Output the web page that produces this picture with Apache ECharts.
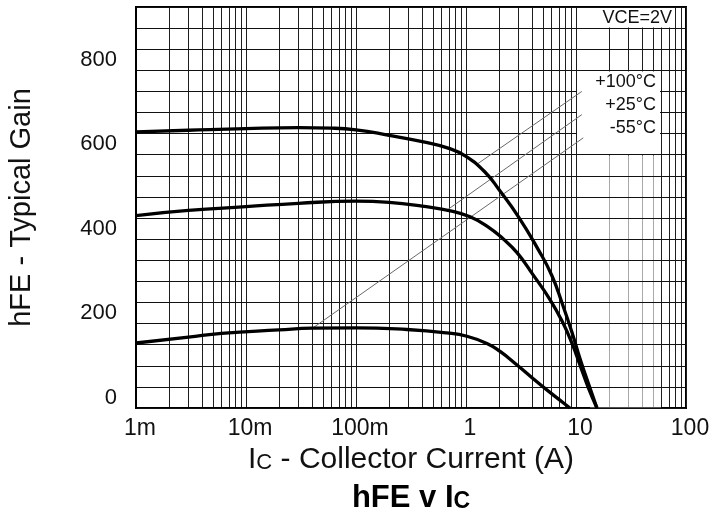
<!DOCTYPE html>
<html><head><meta charset="utf-8">
<script src="https://cdn.jsdelivr.net/npm/echarts@6/dist/echarts.min.js"></script>
<style>html,body{margin:0;padding:0;background:#fff}#c{width:709px;height:516px}</style>
</head><body><div id="c"></div>
<script>
// ---- data ----
const xLabelValues = [0.001, 0.01, 0.1, 1, 10, 100];
const xTickLabels = ['1m', '10m', '100m', '1', '10', '100'];
const yLabelValues = [0, 200, 400, 600, 800];

const current100 = [0.001, 0.003, 0.01, 0.03, 0.06, 0.1, 0.2, 0.4, 0.7, 1.0, 1.5, 2.0, 3.0, 4.5, 6.0, 7.6, 9.2, 10.9, 12.9, 15.5];
const gain100    = [629, 633, 637, 639, 638, 634, 621, 606, 590, 571, 533, 492, 428, 352, 290, 218, 154, 91, 35, -25];

const current25 = [0.001, 0.003, 0.01, 0.03, 0.1, 0.2, 0.4, 0.76, 1.09, 1.55, 2.17, 2.91, 4.06, 5.8, 7.6, 9.2, 10.9, 12.9, 15.5];
const gain25    = [431, 443, 452, 460, 465, 462, 453, 441, 428, 406, 376, 343, 291, 232, 177, 128, 76, 24, -25];

const currentM55 = [0.001, 0.003, 0.006, 0.02, 0.04, 0.1, 0.29, 0.67, 1.02, 1.55, 2.04, 2.91, 4.06, 5.8, 7.6, 8.8];
const gainM55    = [129, 143, 152, 160, 164, 165, 161, 153, 145, 128, 109, 77, 45, 12, -12, -25];

// leader lines from the temperature labels to the curves
const leader100Current = [11.3, 1.25], leader100Gain = [725, 552];
const leader25Current  = [11.3, 0.69], leader25Gain  = [670, 446];
const leaderM55Current = [11.65, 0.0407], leaderM55Gain = [615, 165];

const tempLabels = ['+100°C', '+25°C', '-55°C'];
const conditionLabel = 'VCE=2V';

// grid lines of the log axis: 1..9 in every decade
const decades = [0.001, 0.01, 0.1, 1, 10];
const gridMultipliers = [1, 2, 3, 4, 5, 6, 7, 8, 9];
const xGridValues = [];
decades.forEach(d => gridMultipliers.forEach(m => xGridValues.push(+(d * m).toPrecision(6))));
xGridValues.push(100);

function pairs(xs, ys) { return xs.map((x, i) => [x, ys[i]]); }

const FONT = '"Liberation Sans", Arial, Helvetica, sans-serif';
const chart = echarts.init(document.getElementById('c'), null, {renderer: 'canvas'});

const curveStyle = {color: '#000', width: 3.3};
const leaderStyle = {color: '#6a6a6a', width: 1};

chart.setOption({
  animation: false,
  backgroundColor: '#fff',
  grid: {left: 136, right: 23, top: 7, bottom: 108, outerBoundsMode: 'none', containLabel: false,
         show: true, borderColor: '#000', borderWidth: 2, backgroundColor: 'transparent'},
  xAxis: {
    type: 'log', logBase: 10, min: 0.001, max: 100, z: 0,
    name: '{i|I}{c|C}{r| - Collector Current (A)}',
    nameLocation: 'middle', nameGap: 35,
    nameTextStyle: {
      fontFamily: FONT, color: '#111',
      rich: {
        i: {fontSize: 30, fontFamily: FONT, color: '#111'},
        c: {fontSize: 22, fontFamily: FONT, color: '#111', verticalAlign: 'bottom', padding: [0, 0, 1, 0]},
        r: {fontSize: 30, fontFamily: FONT, color: '#111'}
      }
    },
    axisLine: {show: true, onZero: false, lineStyle: {color: '#000', width: 2}},
    axisTick: {show: false, customValues: xGridValues},
    minorTick: {show: false},
    axisLabel: {
      customValues: xLabelValues, hideOverlap: false,
      fontSize: 23, fontFamily: FONT, color: '#111', margin: 9, padding: [0, 0, 0, 8],
      formatter: v => xTickLabels[Math.round(Math.log10(v)) + 3]
    },
    splitLine: {show: true, lineStyle: {color: '#1e1e1e', width: 1}}
  },
  yAxis: {
    type: 'value', min: -25, max: 925, interval: 50, z: 2,
    name: 'hFE - Typical Gain', nameLocation: 'middle', nameGap: 100, nameRotate: 90,
    nameTextStyle: {fontSize: 29, fontFamily: FONT, color: '#111'},
    axisLine: {show: true, onZero: false, lineStyle: {color: '#000', width: 2}},
    axisTick: {show: false},
    axisLabel: {customValues: yLabelValues, fontSize: 22, fontFamily: FONT, color: '#111', margin: 19},
    splitLine: {show: true, lineStyle: {color: '#111', width: 1}}
  },
  graphic: [
    {type: 'rect', z: 1, silent: true, shape: {x: 590, y: 155.5, width: 71, height: 252}, style: {fill: 'rgba(255,255,255,0.62)'}},
    {type: 'rect', z: 3, silent: true, shape: {x: 577, y: 71.5, width: 83, height: 82.5}, style: {fill: '#fff'}},
    {type: 'rect', z: 3, silent: true, shape: {x: 577, y: 8, width: 96, height: 19.5}, style: {fill: '#fff'}},
    {type: 'text', z: 6, style: {text: conditionLabel, x: 672, y: 18, textAlign: 'right', textVerticalAlign: 'middle', fontSize: 18, fontFamily: FONT, fill: '#111'}},
    {type: 'text', z: 6, style: {text: tempLabels[0], x: 656, y: 82, textAlign: 'right', textVerticalAlign: 'middle', fontSize: 18, fontFamily: FONT, fill: '#111'}},
    {type: 'text', z: 6, style: {text: tempLabels[1], x: 656, y: 105, textAlign: 'right', textVerticalAlign: 'middle', fontSize: 18, fontFamily: FONT, fill: '#111'}},
    {type: 'text', z: 6, style: {text: tempLabels[2], x: 656, y: 128.5, textAlign: 'right', textVerticalAlign: 'middle', fontSize: 18, fontFamily: FONT, fill: '#111'}},
    {type: 'text', z: 6, style: {
      text: '{a|hFE v I}{b|C}', x: 411, y: 498, textAlign: 'center', textVerticalAlign: 'middle',
      rich: {
        a: {fontSize: 31, fontWeight: 'bold', fontFamily: FONT, fill: '#000'},
        b: {fontSize: 23, fontWeight: 'bold', fontFamily: FONT, fill: '#000', verticalAlign: 'bottom'}
      }
    }}
  ],
  series: [
    {type: 'line', name: '+100°C', data: pairs(current100, gain100), smooth: 0.5, showSymbol: false, lineStyle: curveStyle, z: 5},
    {type: 'line', name: '+25°C', data: pairs(current25, gain25), smooth: 0.5, showSymbol: false, lineStyle: curveStyle, z: 5},
    {type: 'line', name: '-55°C', data: pairs(currentM55, gainM55), smooth: 0.5, showSymbol: false, lineStyle: curveStyle, z: 5},
    {type: 'line', data: pairs(leader100Current, leader100Gain), showSymbol: false, lineStyle: leaderStyle, z: 4},
    {type: 'line', data: pairs(leader25Current, leader25Gain), showSymbol: false, lineStyle: leaderStyle, z: 4},
    {type: 'line', data: pairs(leaderM55Current, leaderM55Gain), showSymbol: false, lineStyle: leaderStyle, z: 4}
  ]
});
</script>
</body></html>
